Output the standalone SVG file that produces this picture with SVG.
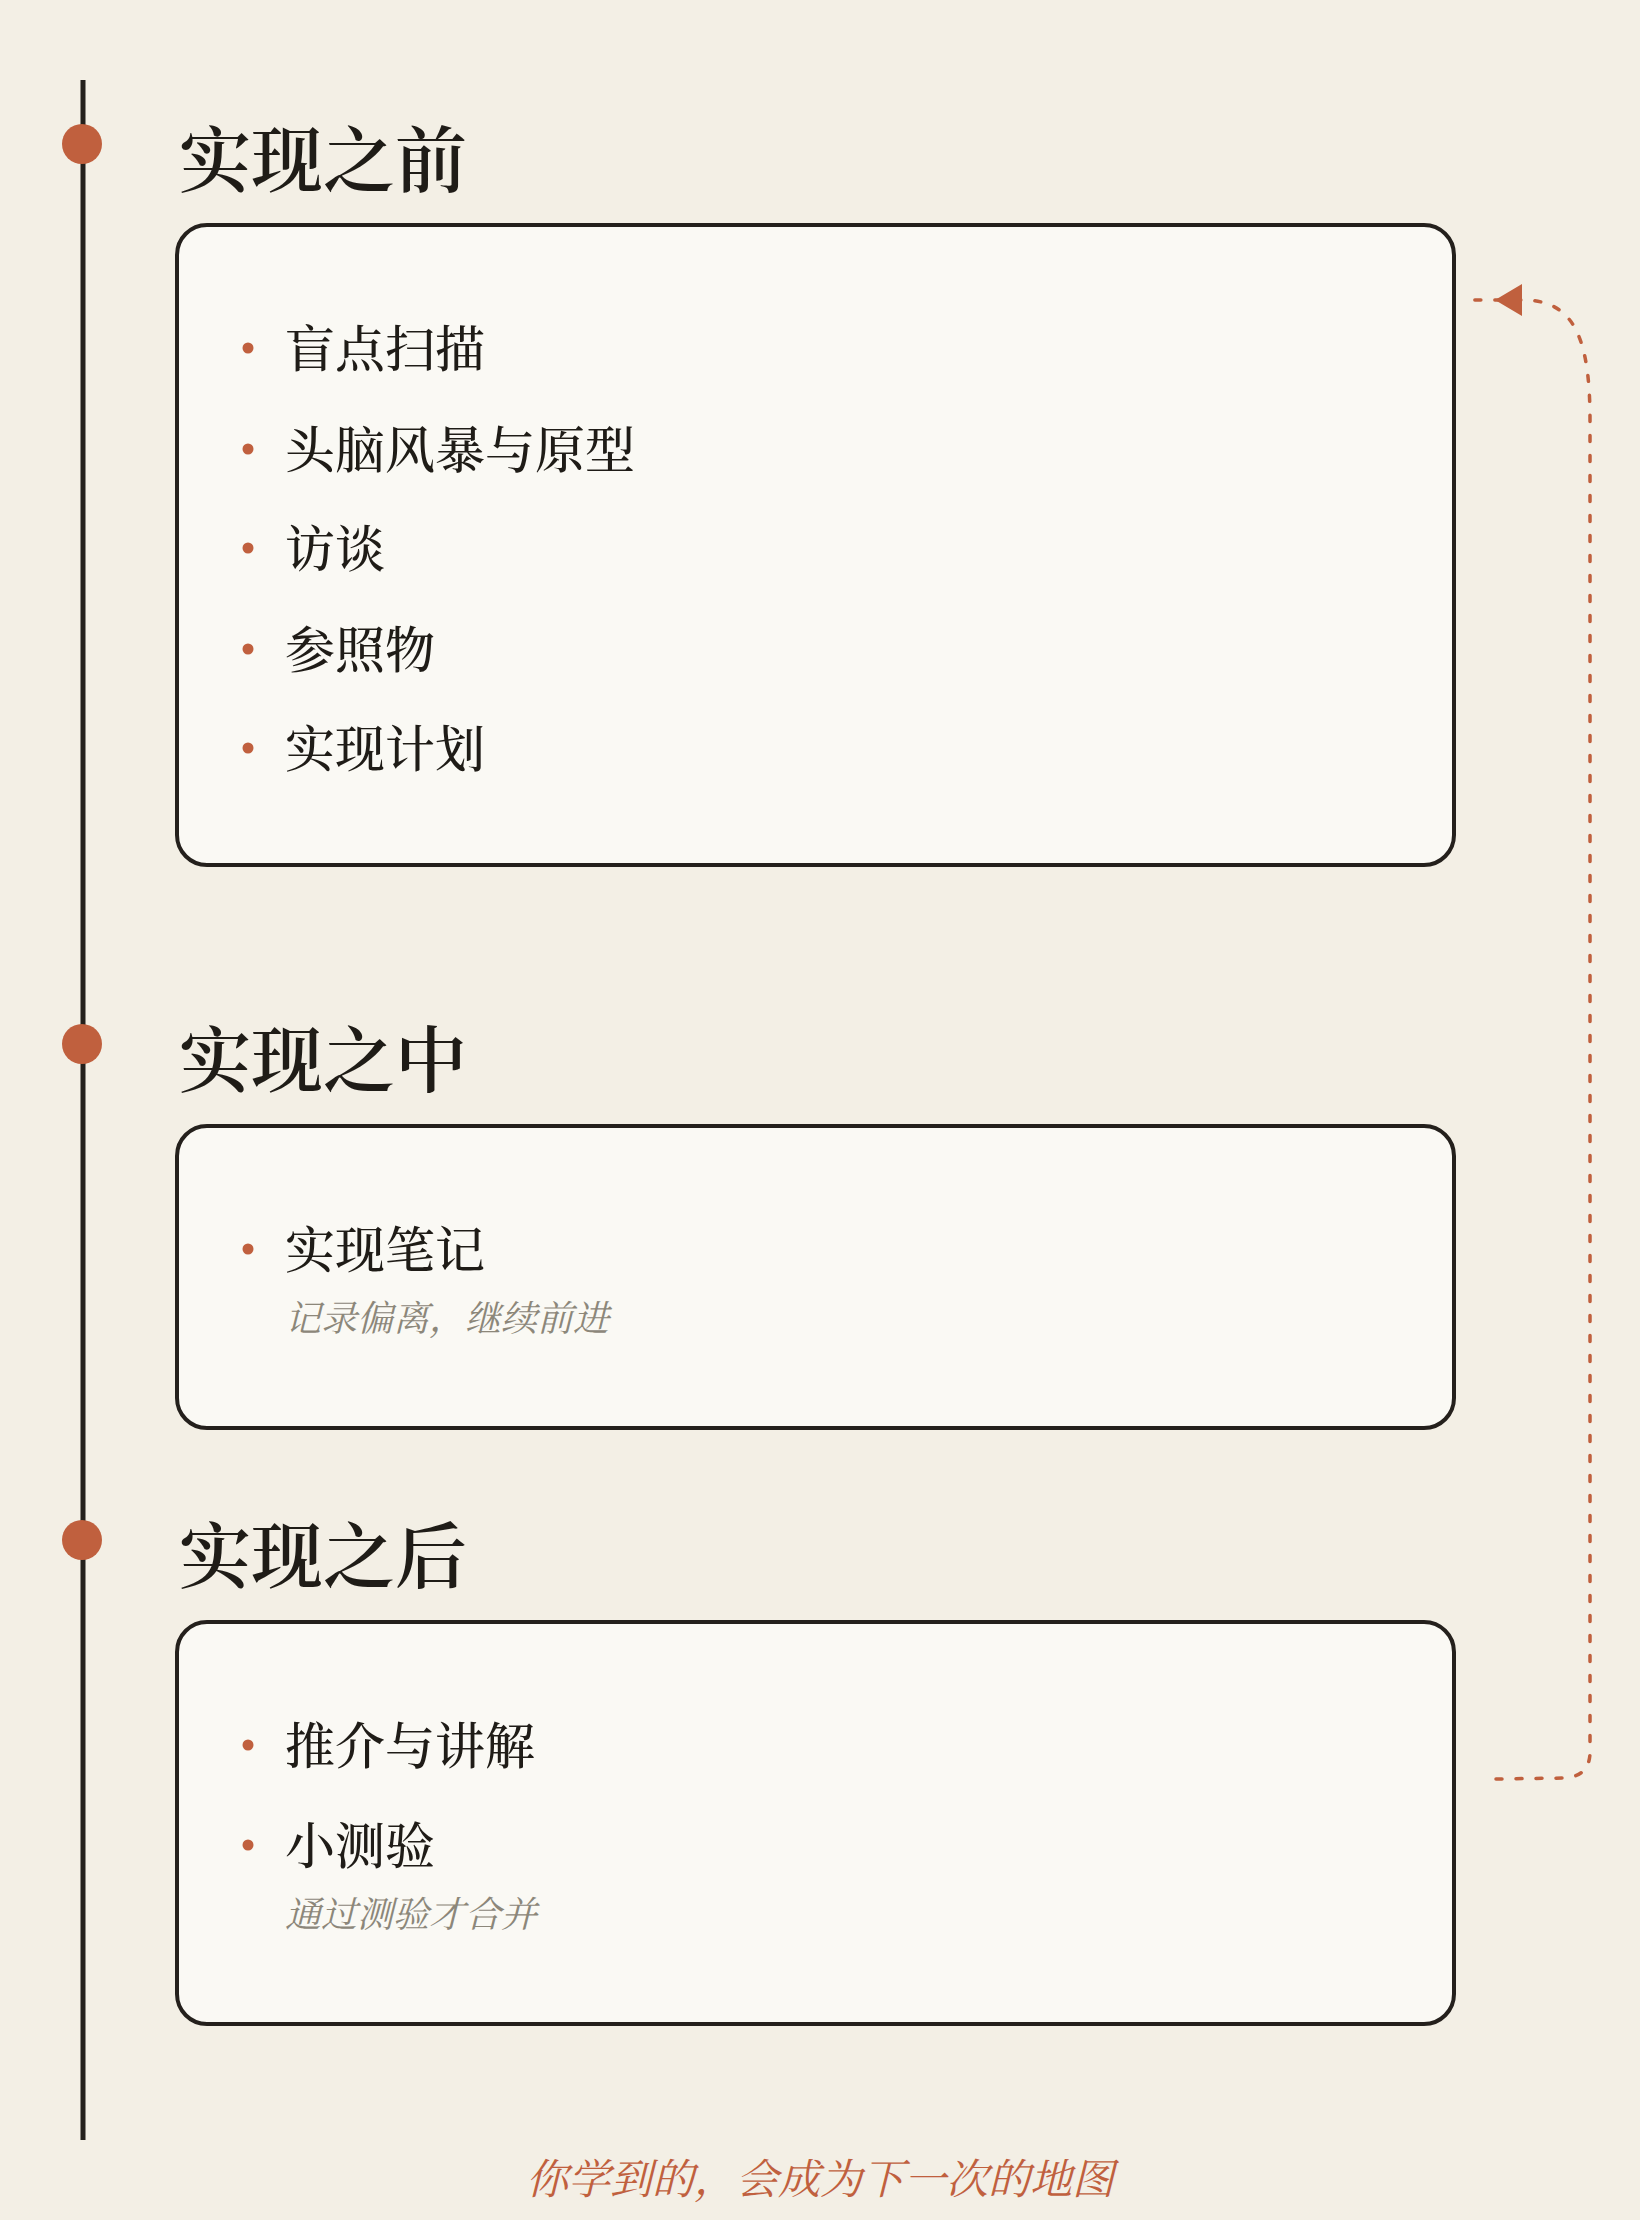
<svg xmlns="http://www.w3.org/2000/svg" width="1640" height="2220" viewBox="0 0 1640 2220">
<style>
.title{font-family:"Liberation Serif","Noto Serif CJK SC","Noto Sans CJK SC",serif;font-size:72px;font-weight:600;fill:#1f1c17}
.item{font-family:"Liberation Serif","Noto Serif CJK SC","Noto Sans CJK SC",serif;font-size:50px;font-weight:500;fill:#1f1c17}
.note{font-family:"Liberation Serif","Noto Serif CJK SC","Noto Sans CJK SC",serif;font-size:36px;font-style:italic;fill:#8c877a}
.foot{font-family:"Liberation Serif","Noto Serif CJK SC","Noto Sans CJK SC",serif;font-size:42px;font-style:italic;fill:#c0603e}
.box{fill:#faf9f4;stroke:#24201c;stroke-width:4}
.dot{fill:#c0603e}
.node{fill:#c0603e}
</style>
<rect width="1640" height="2220" fill="#f3efe5"/>
<line x1="83" y1="80" x2="83" y2="2140" stroke="#24201c" stroke-width="5"/>
<g id="connectors">
<path d="M1496,1779 L1565,1778 Q1590,1776 1590,1752 L1590,420 C1590,330 1570,300 1522,300 L1468,300" fill="none" stroke="#c0603e" stroke-width="3.5" stroke-dasharray="6 14" stroke-linecap="round"/>
<polygon points="1495,300 1522,284 1522,316" fill="#c0603e"/>
</g>
<g id="before">
<circle class="node" cx="82" cy="144" r="20"/>
<text class="title" x="179" y="186">实现之前</text>
<rect class="box" x="177" y="225" width="1277" height="640" rx="30"/>
<circle class="dot" cx="248" cy="348" r="5.5"/><text class="item" x="285" y="367">盲点扫描</text>
<circle class="dot" cx="248" cy="449" r="5.5"/><text class="item" x="285" y="468">头脑风暴与原型</text>
<circle class="dot" cx="248" cy="548" r="5.5"/><text class="item" x="285" y="567">访谈</text>
<circle class="dot" cx="248" cy="649" r="5.5"/><text class="item" x="285" y="668">参照物</text>
<circle class="dot" cx="248" cy="748" r="5.5"/><text class="item" x="285" y="767">实现计划</text>
</g>
<g id="during">
<circle class="node" cx="82" cy="1044" r="20"/>
<text class="title" x="179" y="1086">实现之中</text>
<rect class="box" x="177" y="1126" width="1277" height="302" rx="30"/>
<circle class="dot" cx="248" cy="1249" r="5.5"/><text class="item" x="285" y="1268">实现笔记</text>
<text class="note" x="285" y="1331">记录偏离，继续前进</text>
</g>
<g id="after">
<circle class="node" cx="82" cy="1540" r="20"/>
<text class="title" x="179" y="1582">实现之后</text>
<rect class="box" x="177" y="1622" width="1277" height="402" rx="30"/>
<circle class="dot" cx="248" cy="1745" r="5.5"/><text class="item" x="285" y="1764">推介与讲解</text>
<circle class="dot" cx="248" cy="1845" r="5.5"/><text class="item" x="285" y="1864">小测验</text>
<text class="note" x="285" y="1927">通过测验才合并</text>
</g>
<text class="foot" x="820" y="2194" text-anchor="middle">你学到的，会成为下一次的地图</text>
</svg>
